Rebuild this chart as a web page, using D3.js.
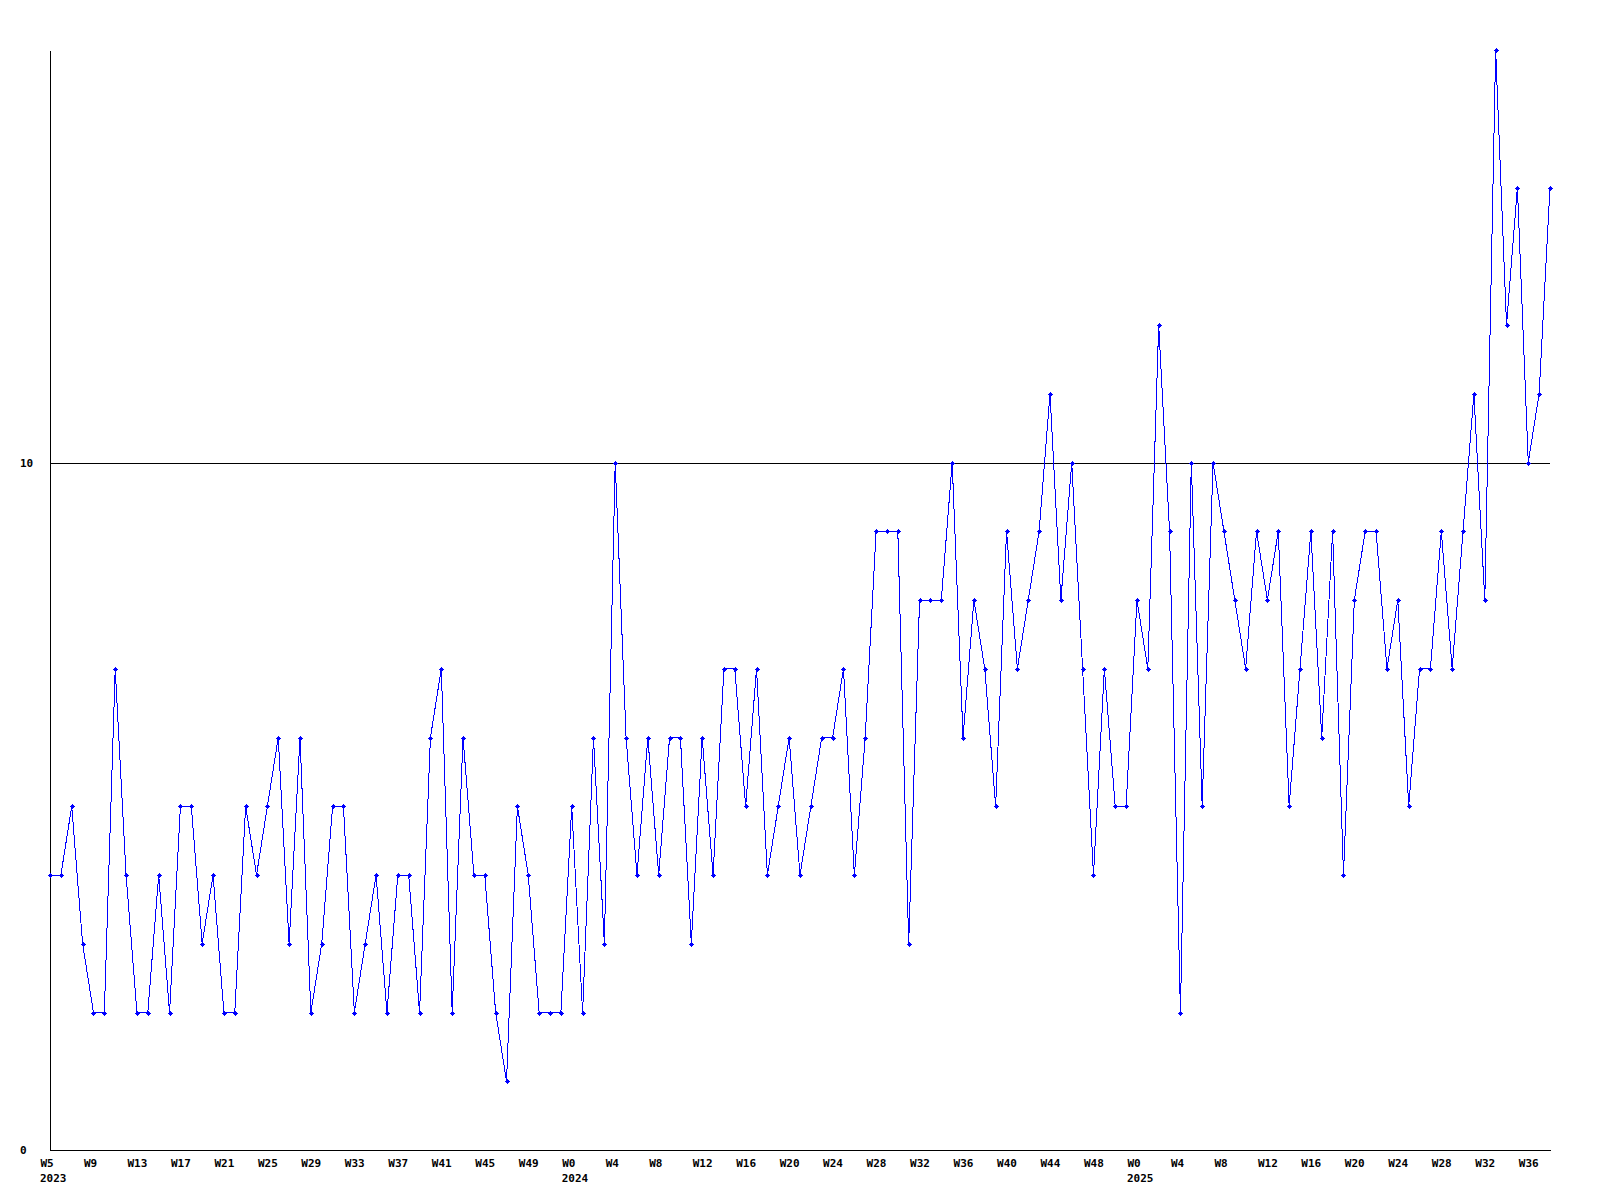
<!DOCTYPE html>
<html>
<head>
<meta charset="utf-8">
<script src="https://cdn.jsdelivr.net/npm/d3@7"></script>
<style>
  html, body { margin: 0; padding: 0; background: #fff; }
  svg { display: block; }
  text { font-family: "DejaVu Sans Mono", "Liberation Mono", monospace; font-weight: bold; font-size: 11px; fill: #000; }
</style>
</head>
<body>
<svg id="chart" width="1600" height="1200"></svg>
<script>
// Weekly values, starting 2023 W5
const values = [
  4,4,5,3,2,2,7,4,2,2,4,2,5,5,3,4,2,2,5,4,
  5,6,3,6,2,3,5,5,2,3,4,2,4,4,2,6,7,2,6,4,
  4,2,1,5,4,2,2,2,5,2,6,3,10,6,4,6,4,6,6,3,
  6,4,7,7,5,7,4,5,6,4,5,6,6,7,4,6,9,9,9,3,
  8,8,8,10,6,8,7,5,9,7,8,9,11,8,10,7,4,7,5,5,
  8,7,12,9,2,10,5,10,9,8,7,9,8,9,5,7,9,6,9,4,
  8,9,9,7,8,5,7,7,9,7,9,11,8,16,12,14,10,11,14
];
// x tick positions (week index) and their labels
const tickIndex = [0,4,8,12,16,20,24,28,32,36,40,44,48,52,56,60,64,68,72,76,80,84,88,92,96,100,104,108,112,116,120,124,128,132,136];
const tickLabels = ["W5","W9","W13","W17","W21","W25","W29","W33","W37","W41","W45","W49",
  "W0","W4","W8","W12","W16","W20","W24","W28","W32","W36","W40","W44","W48",
  "W0","W4","W8","W12","W16","W20","W24","W28","W32","W36"];
const yearIndex = [0, 48, 100];
const yearLabels = ["2023", "2024", "2025"];
const yTicks = [0, 10];

const svg = d3.select("#chart");
const x = d3.scaleLinear().domain([0, values.length - 1]).range([50, 1550]);
const y = d3.scaleLinear().domain([0, 16]).range([1150, 50]);

// Y axis with gridline at 10
const yAxis = svg.append("g")
  .attr("transform", "translate(50,0)")
  .call(d3.axisLeft(y).tickValues(yTicks).tickSize(-1500).tickSizeOuter(0).tickFormat(d3.format("d")));
yAxis.select(".domain").attr("stroke", "#000").attr("shape-rendering", "crispEdges");
yAxis.selectAll(".tick line").attr("stroke", "#000").attr("shape-rendering", "crispEdges");
yAxis.selectAll(".tick text")
  .attr("text-anchor", "start").attr("x", -30).attr("dy", "0.36em")
  .style("font-family", "'DejaVu Sans Mono', monospace").style("font-weight", "bold").style("font-size", "11px");

// X axis
const xAxis = svg.append("g")
  .attr("transform", "translate(0,1150)")
  .call(d3.axisBottom(x).tickValues(tickIndex).tickSize(0).tickSizeOuter(0)
    .tickFormat((d, i) => tickLabels[i]));
xAxis.select(".domain").attr("stroke", "#000").attr("shape-rendering", "crispEdges");
xAxis.selectAll(".tick text")
  .attr("text-anchor", "start").attr("x", -10).attr("y", 17).attr("dy", 0)
  .style("font-family", "'DejaVu Sans Mono', monospace").style("font-weight", "bold").style("font-size", "11px");

svg.append("g").selectAll("text.year").data(yearIndex).join("text")
  .attr("class", "year")
  .attr("x", d => x(d) - 10).attr("y", 1182)
  .text((d, i) => yearLabels[i]);

// Data line
const line = d3.line().x((d, i) => x(i)).y(d => y(d));
svg.append("path").datum(values)
  .attr("d", line)
  .attr("fill", "none").attr("stroke", "#0000ff").attr("stroke-width", 1)
  .attr("shape-rendering", "crispEdges");

// Plus markers
const mk = svg.append("g").attr("fill", "#0000ff").attr("shape-rendering", "crispEdges");
const pts = mk.selectAll("g").data(values).join("g")
  .attr("transform", (d, i) => `translate(${Math.round(x(i))},${Math.round(y(d))})`);
pts.append("rect").attr("x", -2.5).attr("y", -0.5).attr("width", 5).attr("height", 1);
pts.append("rect").attr("x", -0.5).attr("y", -2.5).attr("width", 1).attr("height", 5);
pts.append("rect").attr("x", -1.5).attr("y", -1.5).attr("width", 3).attr("height", 3);
</script>
</body>
</html>
